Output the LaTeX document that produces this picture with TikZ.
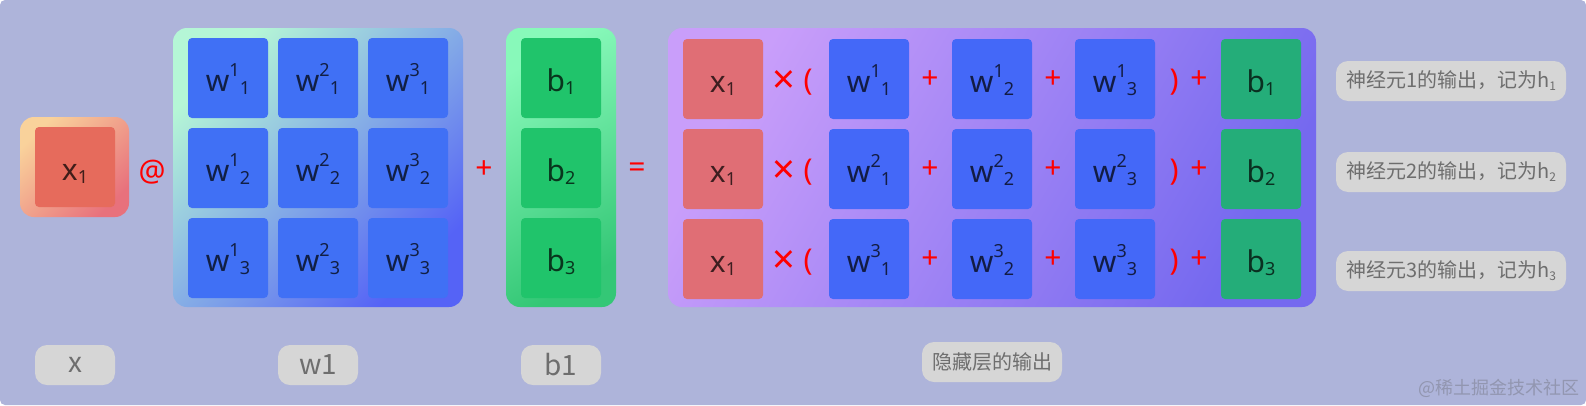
\documentclass[tikz,border=0pt]{standalone}
\usepackage{xcolor}
\usepackage{fontspec}
\setmainfont{Noto Sans}
\newfontfamily\cjk{Noto Sans CJK SC}
\usepackage{tikz}
\usetikzlibrary{positioning}

\definecolor{canvas}{HTML}{AEB4DA}
\definecolor{xtop}{HTML}{F9D29B}
\definecolor{xbot}{HTML}{E8717C}
\definecolor{wtop}{HTML}{B5F6D6}
\definecolor{wbot}{HTML}{5563F6}
\definecolor{btop}{HTML}{88F9BA}
\definecolor{bbot}{HTML}{34C776}
\definecolor{htop}{HTML}{C99EFA}
\definecolor{hbot}{HTML}{7569EF}
\definecolor{xred}{HTML}{E66B5C}
\definecolor{wblue}{HTML}{4070F5}
\definecolor{bgreen}{HTML}{20C46B}
\definecolor{hxred}{HTML}{E06E75}
\definecolor{hwblue}{HTML}{4468F8}
\definecolor{hbgreen}{HTML}{24AD79}
\definecolor{tagfill}{HTML}{D6D6D6}
\definecolor{taggray}{HTML}{6E6E6E}
\definecolor{markgray}{HTML}{9296B0}

\newcommand{\supnum}[1]{\raisebox{15pt}{\fontsize{18}{18}\selectfont #1}}
\newcommand{\subnum}[1]{\raisebox{-3pt}{\fontsize{18}{18}\selectfont #1}}
\newcommand{\hsub}[1]{\raisebox{-3pt}{\fontsize{12}{12}\selectfont #1}}

\begin{document}
\begin{tikzpicture}[
  x=1pt, y=-1pt,
  node distance=10pt,
  panel/.style={inner sep=0pt, outer sep=0pt, rounded corners=14pt},
  cell/.style={minimum size=80pt, inner sep=0pt, outer sep=0pt,
    rounded corners=4pt, font=\fontsize{30}{30}\selectfont,
    text=black, text opacity=0.72, text height=26pt, text depth=0pt},
  xcell/.style={cell, fill=xred},
  wcell/.style={cell, fill=wblue},
  bcell/.style={cell, fill=bgreen},
  hxcell/.style={cell, fill=hxred},
  hwcell/.style={cell, fill=hwblue},
  hbcell/.style={cell, fill=hbgreen},
  op/.style={text=red, inner sep=0pt, font=\fontsize{30}{30}\selectfont},
  tag/.style={fill=tagfill, rounded corners=12pt, minimum height=40pt,
    inner sep=0pt, text=taggray, font=\cjk\fontsize{20}{20}\selectfont}
]
\useasboundingbox (0,0) rectangle (1586,405);
\fill[canvas, rounded corners=5pt] (0,0) rectangle (1586,405);

% input x
\node[panel, top color=xtop, bottom color=xbot, shading angle=45,
  minimum width=109pt, minimum height=100pt] (xbox) at (74.5,167) {};
\node[xcell] (x1) at (75,167) {x\subnum{1}};
\node[op] (matmul) at (152,172) {@};

% weights w1
\node[panel, top color=wtop, bottom color=wbot, shading angle=45,
  minimum width=290pt, minimum height=279pt] (wbox) at (318,167.5) {};
\node[wcell] (w11) at (228,78) {w\supnum{1}\subnum{1}};
\node[wcell, right=of w11] (w21) {w\supnum{2}\subnum{1}};
\node[wcell, right=of w21] (w31) {w\supnum{3}\subnum{1}};
\node[wcell, below=of w11] (w12) {w\supnum{1}\subnum{2}};
\node[wcell, right=of w12] (w22) {w\supnum{2}\subnum{2}};
\node[wcell, right=of w22] (w32) {w\supnum{3}\subnum{2}};
\node[wcell, below=of w12] (w13) {w\supnum{1}\subnum{3}};
\node[wcell, right=of w13] (w23) {w\supnum{2}\subnum{3}};
\node[wcell, right=of w23] (w33) {w\supnum{3}\subnum{3}};
\node[op] (addb) at (484,170) {+};

% bias b1
\node[panel, top color=btop, bottom color=bbot, shading angle=30,
  minimum width=110pt, minimum height=279pt] (bbox) at (561,167.5) {};
\node[bcell] (b1) at (561,78) {b\subnum{1}};
\node[bcell, below=of b1] (b2) {b\subnum{2}};
\node[bcell, below=of b2] (b3) {b\subnum{3}};
\node[op] (equals) at (637,170) {=};

% hidden layer output
\node[panel, top color=htop, bottom color=hbot, shading angle=60,
  minimum width=648pt, minimum height=279pt] (hbox) at (992,167.5) {};

\node[hxcell] (hx1) at (723,79) {x\subnum{1}};
\node[op, font=\fontsize{40}{40}\selectfont] (mul1) at (784,82) {×};
\node[op] (open1) at (808,82) {(};
\node[hwcell] (hw11) at (869,79) {w\supnum{1}\subnum{1}};
\node[op] (adda1) at (930,80) {+};
\node[hwcell] (hw12) at (992,79) {w\supnum{1}\subnum{2}};
\node[op] (addb1) at (1053,80) {+};
\node[hwcell] (hw13) at (1115,79) {w\supnum{1}\subnum{3}};
\node[op] (close1) at (1174,82) {)};
\node[op] (addc1) at (1199,80) {+};
\node[hbcell] (hb1) at (1261,79) {b\subnum{1}};

\node[hxcell] (hx2) at (723,169) {x\subnum{1}};
\node[op, font=\fontsize{40}{40}\selectfont] (mul2) at (784,172) {×};
\node[op] (open2) at (808,172) {(};
\node[hwcell] (hw21) at (869,169) {w\supnum{2}\subnum{1}};
\node[op] (adda2) at (930,170) {+};
\node[hwcell] (hw22) at (992,169) {w\supnum{2}\subnum{2}};
\node[op] (addb2) at (1053,170) {+};
\node[hwcell] (hw23) at (1115,169) {w\supnum{2}\subnum{3}};
\node[op] (close2) at (1174,172) {)};
\node[op] (addc2) at (1199,170) {+};
\node[hbcell] (hb2) at (1261,169) {b\subnum{2}};

\node[hxcell] (hx3) at (723,259) {x\subnum{1}};
\node[op, font=\fontsize{40}{40}\selectfont] (mul3) at (784,262) {×};
\node[op] (open3) at (808,262) {(};
\node[hwcell] (hw31) at (869,259) {w\supnum{3}\subnum{1}};
\node[op] (adda3) at (930,260) {+};
\node[hwcell] (hw32) at (992,259) {w\supnum{3}\subnum{2}};
\node[op] (addb3) at (1053,260) {+};
\node[hwcell] (hw33) at (1115,259) {w\supnum{3}\subnum{3}};
\node[op] (close3) at (1174,262) {)};
\node[op] (addc3) at (1199,260) {+};
\node[hbcell] (hb3) at (1261,259) {b\subnum{3}};

% labels
\node[tag, minimum width=230pt] (h1tag) at (1451,81) {神经元1的输出，记为h\hsub{1}};
\node[tag, minimum width=230pt] (h2tag) at (1451,172) {神经元2的输出，记为h\hsub{2}};
\node[tag, minimum width=230pt] (h3tag) at (1451,271) {神经元3的输出，记为h\hsub{3}};

\node[tag, minimum width=80pt, font=\cjk\fontsize{28}{28}\selectfont] (xtag) at (75,365) {x};
\node[tag, minimum width=80pt, font=\cjk\fontsize{28}{28}\selectfont] (wtag) at (318,365) {w1};
\node[tag, minimum width=80pt, font=\cjk\fontsize{28}{28}\selectfont] (btag) at (561,365) {b1};
\node[tag, minimum width=140pt] (htag) at (992,362) {隐藏层的输出};

\node[anchor=east, inner sep=0pt, text=markgray,
  font=\cjk\fontsize{18}{18}\selectfont] (wm) at (1580,388) {@稀土掘金技术社区};
\end{tikzpicture}
\end{document}
